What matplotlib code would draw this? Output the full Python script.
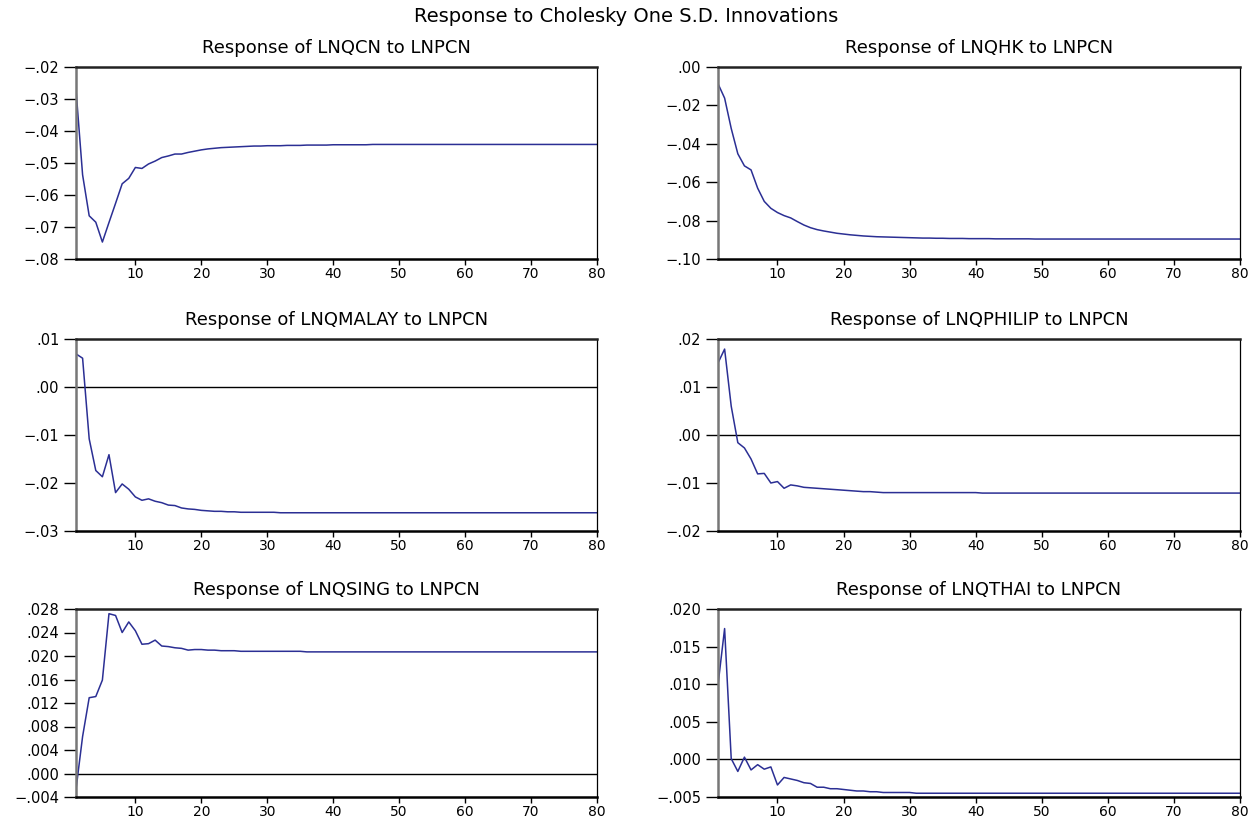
import matplotlib
matplotlib.use("Agg")
import matplotlib.pyplot as plt
from matplotlib.ticker import FuncFormatter, FixedLocator
import numpy as np

plt.rcParams['font.family'] = ['DejaVu Sans']

periods = list(range(1, 81))

lnqcn = [-0.0271, -0.0537, -0.0665, -0.0685, -0.0747, -0.0686, -0.0626, -0.0565, -0.0548, -0.0514,
         -0.0517, -0.0503, -0.0494, -0.0483, -0.0478, -0.0472, -0.0472, -0.0467, -0.0463, -0.0459,
         -0.0456, -0.0454, -0.0452, -0.0451, -0.0450, -0.0449, -0.0448, -0.0447, -0.0447, -0.0446,
         -0.0446, -0.0446, -0.0445, -0.0445, -0.0445, -0.0444, -0.0444, -0.0444, -0.0444, -0.0443,
         -0.0443, -0.0443, -0.0443, -0.0443, -0.0443, -0.0442, -0.0442, -0.0442, -0.0442, -0.0442,
         -0.0442, -0.0442, -0.0442, -0.0442, -0.0442, -0.0442, -0.0442, -0.0442, -0.0442, -0.0442,
         -0.0442, -0.0442, -0.0442, -0.0442, -0.0442, -0.0442, -0.0442, -0.0442, -0.0442, -0.0442,
         -0.0442, -0.0442, -0.0442, -0.0442, -0.0442, -0.0442, -0.0442, -0.0442, -0.0442, -0.0442]

lnqhk = [-0.0087, -0.0162, -0.0320, -0.0452, -0.0515, -0.0536, -0.0631, -0.0700, -0.0736, -0.0758,
         -0.0774, -0.0786, -0.0805, -0.0823, -0.0837, -0.0847, -0.0854, -0.0860, -0.0866, -0.0870,
         -0.0874, -0.0877, -0.0880, -0.0882, -0.0884, -0.0885, -0.0886, -0.0887, -0.0888, -0.0889,
         -0.0890, -0.0891, -0.0891, -0.0892, -0.0892, -0.0893, -0.0893, -0.0893, -0.0894, -0.0894,
         -0.0894, -0.0894, -0.0895, -0.0895, -0.0895, -0.0895, -0.0895, -0.0895, -0.0896, -0.0896,
         -0.0896, -0.0896, -0.0896, -0.0896, -0.0896, -0.0896, -0.0896, -0.0896, -0.0896, -0.0896,
         -0.0896, -0.0896, -0.0896, -0.0896, -0.0896, -0.0896, -0.0896, -0.0896, -0.0896, -0.0896,
         -0.0896, -0.0896, -0.0896, -0.0896, -0.0896, -0.0896, -0.0896, -0.0896, -0.0896, -0.0896]

lnqmalay = [0.0069, 0.0060, -0.0108, -0.0174, -0.0187, -0.0141, -0.0220, -0.0202, -0.0213, -0.0229,
            -0.0236, -0.0233, -0.0238, -0.0241, -0.0246, -0.0247, -0.0252, -0.0254, -0.0255, -0.0257,
            -0.0258, -0.0259, -0.0259, -0.0260, -0.0260, -0.0261, -0.0261, -0.0261, -0.0261, -0.0261,
            -0.0261, -0.0262, -0.0262, -0.0262, -0.0262, -0.0262, -0.0262, -0.0262, -0.0262, -0.0262,
            -0.0262, -0.0262, -0.0262, -0.0262, -0.0262, -0.0262, -0.0262, -0.0262, -0.0262, -0.0262,
            -0.0262, -0.0262, -0.0262, -0.0262, -0.0262, -0.0262, -0.0262, -0.0262, -0.0262, -0.0262,
            -0.0262, -0.0262, -0.0262, -0.0262, -0.0262, -0.0262, -0.0262, -0.0262, -0.0262, -0.0262,
            -0.0262, -0.0262, -0.0262, -0.0262, -0.0262, -0.0262, -0.0262, -0.0262, -0.0262, -0.0262]

lnqphilip = [0.0150, 0.0179, 0.0060, -0.0016, -0.0027, -0.0050, -0.0081, -0.0080, -0.0100, -0.0097,
             -0.0111, -0.0104, -0.0106, -0.0109, -0.0110, -0.0111, -0.0112, -0.0113, -0.0114, -0.0115,
             -0.0116, -0.0117, -0.0118, -0.0118, -0.0119, -0.0120, -0.0120, -0.0120, -0.0120, -0.0120,
             -0.0120, -0.0120, -0.0120, -0.0120, -0.0120, -0.0120, -0.0120, -0.0120, -0.0120, -0.0120,
             -0.0121, -0.0121, -0.0121, -0.0121, -0.0121, -0.0121, -0.0121, -0.0121, -0.0121, -0.0121,
             -0.0121, -0.0121, -0.0121, -0.0121, -0.0121, -0.0121, -0.0121, -0.0121, -0.0121, -0.0121,
             -0.0121, -0.0121, -0.0121, -0.0121, -0.0121, -0.0121, -0.0121, -0.0121, -0.0121, -0.0121,
             -0.0121, -0.0121, -0.0121, -0.0121, -0.0121, -0.0121, -0.0121, -0.0121, -0.0121, -0.0121]

lnqsing = [-0.0027, 0.0063, 0.0129, 0.0131, 0.0159, 0.0272, 0.0269, 0.0240, 0.0258, 0.0243,
           0.0220, 0.0221, 0.0227, 0.0217, 0.0216, 0.0214, 0.0213, 0.0210, 0.0211, 0.0211,
           0.0210, 0.0210, 0.0209, 0.0209, 0.0209, 0.0208, 0.0208, 0.0208, 0.0208, 0.0208,
           0.0208, 0.0208, 0.0208, 0.0208, 0.0208, 0.0207, 0.0207, 0.0207, 0.0207, 0.0207,
           0.0207, 0.0207, 0.0207, 0.0207, 0.0207, 0.0207, 0.0207, 0.0207, 0.0207, 0.0207,
           0.0207, 0.0207, 0.0207, 0.0207, 0.0207, 0.0207, 0.0207, 0.0207, 0.0207, 0.0207,
           0.0207, 0.0207, 0.0207, 0.0207, 0.0207, 0.0207, 0.0207, 0.0207, 0.0207, 0.0207,
           0.0207, 0.0207, 0.0207, 0.0207, 0.0207, 0.0207, 0.0207, 0.0207, 0.0207, 0.0207]

lnqthai = [0.0099, 0.0174, 0.0001, -0.0016, 0.0003, -0.0014, -0.0007, -0.0013, -0.0010, -0.0034,
           -0.0024, -0.0026, -0.0028, -0.0031, -0.0032, -0.0037, -0.0037, -0.0039, -0.0039, -0.0040,
           -0.0041, -0.0042, -0.0042, -0.0043, -0.0043, -0.0044, -0.0044, -0.0044, -0.0044, -0.0044,
           -0.0045, -0.0045, -0.0045, -0.0045, -0.0045, -0.0045, -0.0045, -0.0045, -0.0045, -0.0045,
           -0.0045, -0.0045, -0.0045, -0.0045, -0.0045, -0.0045, -0.0045, -0.0045, -0.0045, -0.0045,
           -0.0045, -0.0045, -0.0045, -0.0045, -0.0045, -0.0045, -0.0045, -0.0045, -0.0045, -0.0045,
           -0.0045, -0.0045, -0.0045, -0.0045, -0.0045, -0.0045, -0.0045, -0.0045, -0.0045, -0.0045,
           -0.0045, -0.0045, -0.0045, -0.0045, -0.0045, -0.0045, -0.0045, -0.0045, -0.0045, -0.0045]

titles = ["Response of LNQCN to LNPCN", "Response of LNQHK to LNPCN",
          "Response of LNQMALAY to LNPCN", "Response of LNQPHILIP to LNPCN",
          "Response of LNQSING to LNPCN", "Response of LNQTHAI to LNPCN"]
series = [lnqcn, lnqhk, lnqmalay, lnqphilip, lnqsing, lnqthai]
yticks = [[-0.08, -0.07, -0.06, -0.05, -0.04, -0.03, -0.02],
          [-0.10, -0.08, -0.06, -0.04, -0.02, 0.00],
          [-0.03, -0.02, -0.01, 0.00, 0.01],
          [-0.02, -0.01, 0.00, 0.01, 0.02],
          [-0.004, 0.000, 0.004, 0.008, 0.012, 0.016, 0.020, 0.024, 0.028],
          [-0.005, 0.000, 0.005, 0.010, 0.015, 0.020]]
decimals = [2, 2, 2, 2, 3, 3]
xticks = [10, 20, 30, 40, 50, 60, 70, 80]

W, H = 1252, 819
fig = plt.figure(figsize=(W / 100, H / 100), dpi=100)
fig.text(0.5, 1 - 17 / H, "Response to Cholesky One S.D. Innovations",
         ha='center', va='center', fontsize=14)

cols = [(76, 597), (718, 1240)]
rows = [(67, 259), (339, 531), (609, 797)]

def make_fmt(d):
    def f(v, pos):
        s = f"{abs(v):.{d}f}"
        if s.startswith("0"):
            s = s[1:]
        if v < 0 and float(s) != 0:
            s = "\u2212" + s
        return s
    return f

line_color = '#2B2F94'
for i, (title, ys) in enumerate(zip(titles, series)):
    r, c = divmod(i, 2)
    x0, x1 = cols[c]
    yt, yb = rows[r]
    ax = fig.add_axes([x0 / W, 1 - yb / H, (x1 - x0) / W, (yb - yt) / H])
    ax.plot(periods, ys, color=line_color, lw=1.1)
    lo, hi = yticks[i][0], yticks[i][-1]
    if lo < 0 < hi:
        ax.axhline(0, color='black', lw=1.0, zorder=1)
    ax.set_xlim(1, 80)
    ax.set_ylim(lo, hi)
    ax.yaxis.set_major_locator(FixedLocator(yticks[i]))
    ax.yaxis.set_major_formatter(FuncFormatter(make_fmt(decimals[i])))
    ax.xaxis.set_major_locator(FixedLocator(xticks))
    ax.tick_params(axis='y', direction='out', length=9, width=1.0, labelsize=10.5, pad=3)
    ax.tick_params(axis='x', direction='out', length=4, width=1.0, labelsize=10, pad=1.5)
    ax.spines['left'].set_color('#777777')
    ax.spines['left'].set_linewidth(1.8)
    ax.spines['bottom'].set_linewidth(1.8)
    ax.spines['top'].set_linewidth(1.8)
    ax.spines['top'].set_color('#222222')
    ax.spines['right'].set_linewidth(0.9)
    ax.set_title(title, fontsize=13, pad=10)

fig.savefig("out.png", dpi=100)
